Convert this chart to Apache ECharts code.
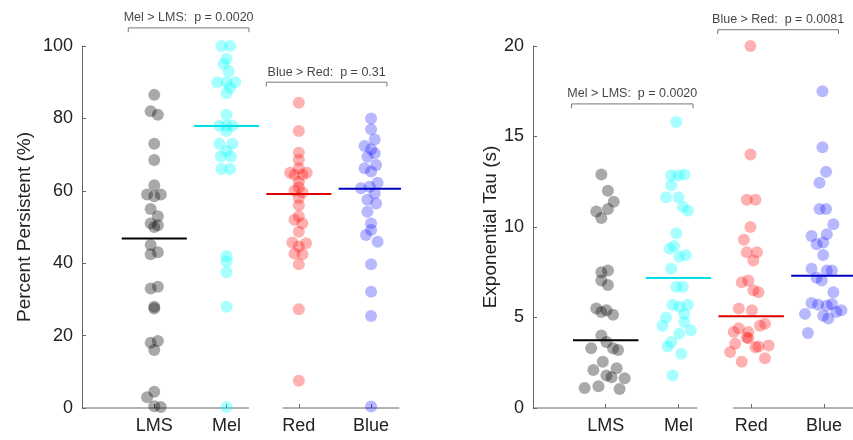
<!DOCTYPE html>
<html><head><meta charset="utf-8">
<script src="https://cdn.jsdelivr.net/npm/echarts@6/dist/echarts.min.js"></script>
<style>html,body{margin:0;padding:0;background:#fff}#c{width:853px;height:440px}</style>
</head><body><div id="c"></div>
<script>
// ---------- DATA ----------
const categories = ['LMS', 'Mel', 'Red', 'Blue'];
const pctTicks = [0, 20, 40, 60, 80, 100];
const tauTicks = [0, 5, 10, 15, 20];

// Percent Persistent (%) values and horizontal jitter (category units)
const pctLMS = [86.5, 82, 81, 73, 68.5, 61.5, 59, 59, 58.5, 55, 53, 51, 50.5, 50, 45, 43, 42.5, 33, 33.5, 28, 27.5, 18.5, 18, 16, 4.5, 3, 0.5, 0.3];
const pctLMSJit = [0, -0.05, 0.05, 0, 0, 0, -0.1, 0.09, 0, -0.05, 0.05, -0.05, 0.05, 0, -0.05, 0.05, -0.05, -0.05, 0.05, 0, 0, 0.05, -0.05, 0, 0, -0.1, 0, 0.09];
const pctMel = [100, 100, 96.5, 95, 93, 90, 90, 90, 88.5, 87, 81, 78, 78, 78, 76.5, 73, 73, 71, 69.5, 69.5, 66, 66, 42, 40.5, 37.5, 28, 0.3];
const pctMelJit = [-0.07, 0.05, 0, -0.04, 0.03, -0.13, 0, 0.12, 0.05, 0, 0, -0.1, 0, 0.08, 0, -0.1, 0.08, 0, -0.08, 0.06, -0.07, 0.05, 0, 0, 0, 0, 0];
const pctRed = [84.3, 76.5, 70.5, 68.5, 66.2, 65, 65, 64.4, 64.4, 62.5, 61, 60, 59.5, 58, 56, 53, 52, 51, 48.7, 45.7, 45.5, 44.6, 42.7, 42.5, 39.7, 27.3, 7.5];
const pctRedJit = [0, 0, 0, 0, 0, -0.12, 0.11, -0.06, 0.05, 0, 0, -0.06, 0.05, 0, 0, 0, -0.06, 0.05, 0, -0.09, 0.1, 0, -0.06, 0.05, 0, 0, 0];
const pctBlue = [80, 77, 74.2, 72.4, 71.5, 70.4, 69.4, 67.1, 66.2, 65.3, 62.2, 61.1, 60.7, 59.3, 57.5, 56.5, 54.2, 51, 49.2, 47.8, 45.9, 39.7, 32.1, 25.4, 0.4];
const pctBlueJit = [0, 0, 0.05, -0.09, 0, 0.05, -0.05, 0.07, -0.09, 0, 0.09, -0.02, -0.14, 0.05, -0.05, 0.07, -0.05, 0, 0, -0.07, 0.09, 0, 0, 0, 0];
const pctMedians = [46.8, 77.9, 59.1, 60.6];

// Exponential Tau (s)
const tauLMS = [12.9, 12.0, 11.4, 11.0, 10.85, 10.5, 7.6, 7.5, 7.05, 6.8, 5.5, 5.4, 5.3, 5.15, 4.0, 3.65, 3.3, 3.3, 3.2, 2.55, 2.1, 2.2, 1.8, 1.7, 1.65, 1.1, 1.2, 1.05];
const tauLMSJit = [-0.06, 0.03, 0.11, 0.03, -0.13, -0.06, 0.03, -0.06, -0.06, 0.03, -0.13, 0.01, -0.06, 0.1, -0.06, 0.01, -0.2, 0.1, 0.17, -0.04, -0.17, 0.15, 0.01, 0.08, 0.26, -0.29, -0.1, 0.19];
const tauMel = [15.8, 12.9, 12.85, 12.85, 12.3, 11.65, 11.65, 11.1, 10.9, 9.65, 8.95, 8.8, 8.45, 8.35, 7.7, 6.7, 6.7, 5.7, 5.7, 5.6, 5.2, 5.0, 4.75, 4.55, 4.3, 4.1, 3.65, 3.4, 3.0, 1.8];
const tauMelJit = [-0.03, 0.08, -0.1, 0, -0.1, -0.17, 0, 0.06, 0.13, -0.03, -0.06, -0.12, 0.1, 0.01, -0.1, -0.03, 0.06, -0.08, 0.13, 0.01, 0.08, -0.17, 0.08, -0.22, 0.17, 0.01, -0.1, -0.15, 0.04, -0.08];
const tauRed = [20.0, 14.0, 11.5, 11.5, 10.0, 9.3, 8.6, 8.6, 8.15, 7.05, 6.95, 6.5, 6.4, 5.5, 5.4, 4.65, 4.55, 4.4, 4.2, 4.2, 3.9, 3.85, 3.55, 3.45, 3.35, 3.4, 3.1, 2.75, 2.55];
const tauRedJit = [-0.01, -0.01, -0.06, 0.06, -0.01, -0.1, -0.06, 0.08, 0.03, -0.04, -0.13, 0.03, 0.1, -0.17, 0.01, 0.19, 0.12, -0.17, -0.24, -0.04, -0.06, -0.04, -0.22, 0.24, 0.06, 0.1, -0.29, 0.19, -0.13];
const tauBlue = [17.5, 14.4, 13.05, 12.45, 11.0, 11.0, 10.15, 9.6, 9.5, 9.15, 9.05, 8.45, 7.7, 7.6, 7.6, 7.2, 7.05, 6.4, 5.8, 5.75, 5.7, 5.65, 5.4, 5.3, 5.2, 5.1, 4.95, 4.15];
const tauBlueJit = [-0.02, -0.02, 0.03, -0.06, -0.06, 0.03, 0.13, 0.04, -0.17, -0.01, -0.1, -0.01, -0.17, 0.11, 0.04, -0.1, -0.03, 0.13, -0.17, 0.11, -0.08, 0.04, 0.24, 0.17, -0.26, -0.01, 0.06, -0.22];
const tauMedians = [3.75, 7.18, 5.07, 7.31];

// significance annotations
const pctTests = ['Mel > LMS:  p = 0.0020', 'Blue > Red:  p = 0.31'];
const tauTests = ['Mel > LMS:  p = 0.0020', 'Blue > Red:  p = 0.0081'];

// ---------- STYLE / LAYOUT ----------
const FONT = "'Liberation Sans', Arial, sans-serif";
const dotColors = ['rgba(0,0,0,0.42)', 'rgba(0,255,255,0.42)', 'rgba(255,0,0,0.38)', 'rgba(0,0,255,0.35)'];
const medColors = ['#000000', '#00e0e8', '#e00000', '#0000c0'];
const axisColor = '#666';
const medHalf = 0.45;

// bracket positions [x0, x1, y, drop] in data units per panel
const pctBrackets = [[0.64, 2.31, 105, 1.2], [2.55, 4.22, 90, 1.2]];
const tauBrackets = [[0.53, 2.2, 16.8, 0.24], [2.54, 4.2, 20.9, 0.24]];
// broken x-axis segments
const pctSegs = [[0, 2.31], [2.78, 4.39]];
const tauSegs = [[0, 2.26], [2.75, 4.4]];

function panelSeries(idx, groups, jits, medians, brackets, tests, segs) {
  const s = [];
  groups.forEach((vals, g) => {
    s.push({
      type: 'scatter', xAxisIndex: idx, yAxisIndex: idx, symbolSize: 12,
      itemStyle: { color: dotColors[g] }, z: 2, silent: true,
      data: vals.map((v, i) => [g + 1 + jits[g][i], v])
    });
  });
  medians.forEach((m, g) => {
    s.push({
      type: 'line', xAxisIndex: idx, yAxisIndex: idx, symbol: 'none', z: 3, silent: true,
      lineStyle: { color: medColors[g], width: 2 },
      data: [[g + 1 - medHalf, m], [g + 1 + medHalf, m]]
    });
  });
  segs.forEach(sg => {
    s.push({
      type: 'line', xAxisIndex: idx, yAxisIndex: idx, symbol: 'none', z: 1, silent: true,
      lineStyle: { color: axisColor, width: 1 }, clip: false,
      data: [[sg[0], 0], [sg[1], 0]]
    });
  });
  brackets.forEach((b, k) => {
    s.push({
      type: 'line', xAxisIndex: idx, yAxisIndex: idx, symbol: 'none', z: 1, silent: true, clip: false,
      lineStyle: { color: '#777', width: 1 },
      data: [[b[0], b[2] - b[3]], [b[0], b[2]], [b[1], b[2]], [b[1], b[2] - b[3]]]
    });
    s.push({
      type: 'scatter', xAxisIndex: idx, yAxisIndex: idx, symbolSize: 1, silent: true, clip: false,
      itemStyle: { color: 'rgba(0,0,0,0)' },
      label: { show: true, position: 'top', distance: 3, formatter: tests[k], color: '#111', fontSize: 12.5, fontFamily: FONT },
      data: [[(b[0] + b[1]) / 2, b[2]]]
    });
  });
  return s;
}

function xAx(idx) {
  return {
    type: 'value', gridIndex: idx, min: 0, max: 4.4, interval: 1,
    splitLine: { show: false }, axisLine: { show: false },
    axisTick: { show: true, inside: true, length: 4, lineStyle: { color: axisColor }, customValues: [1, 2, 3, 4] },
    axisLabel: { customValues: [1, 2, 3, 4], formatter: v => categories[Math.round(v) - 1] || '', fontSize: 18, color: '#222', fontFamily: FONT, margin: 9 }
  };
}
function yAx(idx, max, interval, name, gap) {
  return {
    type: 'value', gridIndex: idx, min: 0, max: max, interval: interval,
    name: name, nameLocation: 'middle', nameGap: gap,
    nameTextStyle: { fontSize: 19, color: '#222', fontFamily: FONT },
    splitLine: { show: false },
    axisLine: { show: true, lineStyle: { color: axisColor } },
    axisTick: { show: true, inside: true, length: 4, lineStyle: { color: axisColor } },
    axisLabel: { fontSize: 18, color: '#222', fontFamily: FONT, margin: 9 }
  };
}

const chart = echarts.init(document.getElementById('c'), null, { renderer: 'canvas' });
chart.setOption({
  backgroundColor: '#fff',
  animation: false,
  textStyle: { fontFamily: FONT },
  grid: [
    { left: 82, top: 46, width: 318, height: 362 },
    { left: 533, top: 46, width: 320, height: 362 }
  ],
  xAxis: [xAx(0), xAx(1)],
  yAxis: [
    yAx(0, pctTicks[pctTicks.length - 1], pctTicks[1] - pctTicks[0], 'Percent Persistent (%)', 48),
    yAx(1, tauTicks[tauTicks.length - 1], tauTicks[1] - tauTicks[0], 'Exponential Tau (s)', 32)
  ],
  series: [].concat(
    panelSeries(0, [pctLMS, pctMel, pctRed, pctBlue], [pctLMSJit, pctMelJit, pctRedJit, pctBlueJit], pctMedians, pctBrackets, pctTests, pctSegs),
    panelSeries(1, [tauLMS, tauMel, tauRed, tauBlue], [tauLMSJit, tauMelJit, tauRedJit, tauBlueJit], tauMedians, tauBrackets, tauTests, tauSegs)
  )
});
</script></body></html>
